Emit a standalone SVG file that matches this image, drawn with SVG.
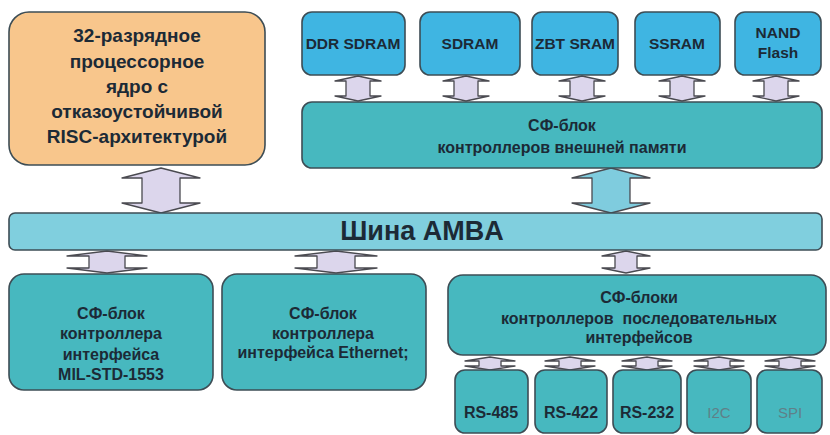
<svg xmlns="http://www.w3.org/2000/svg" width="830" height="435" viewBox="0 0 830 435">
<style>
text{font-family:"Liberation Sans",Arial,sans-serif;font-weight:bold;fill:#1c2a36;text-anchor:middle}
.box{stroke:#3d4d55;stroke-width:1.6}
.proc{fill:#F8C68C}
.mem{fill:#3FB5E2}
.teal{fill:#47B8BF}
.bus{fill:#80CFDE}
.arr{fill:#DCD6EC;stroke:#4a4a50;stroke-width:1.3;stroke-linejoin:round}
.arrc{fill:#7FCCDE;stroke:#4a4a50;stroke-width:1.3;stroke-linejoin:round}
.lite{font-weight:normal;fill:#5f8088}
</style>
<rect width="830" height="435" fill="#ffffff"/>
<g id="connectors">
<path class="arr" d="M161,168 L200,178 L180,178 L180,203 L200,203 L161,213 L122,203 L142,203 L142,178 L122,178 Z"/>
<path class="arrc" d="M611,168 L650,178 L630,178 L630,203 L650,203 L611,213 L572,203 L592,203 L592,178 L572,178 Z"/>
<path class="arr" d="M358,76 L381,81 L370,81 L370,96 L381,96 L358,101 L335,96 L346,96 L346,81 L335,81 Z"/>
<path class="arr" d="M466,76 L489,81 L478,81 L478,96 L489,96 L466,101 L443,96 L454,96 L454,81 L443,81 Z"/>
<path class="arr" d="M582,76 L605,81 L594,81 L594,96 L605,96 L582,101 L559,96 L570,96 L570,81 L559,81 Z"/>
<path class="arr" d="M682,76 L705,81 L694,81 L694,96 L705,96 L682,101 L659,96 L670,96 L670,81 L659,81 Z"/>
<path class="arr" d="M776,76 L799,81 L788,81 L788,96 L799,96 L776,101 L753,96 L764,96 L764,81 L753,81 Z"/>
<path class="arr" d="M107,251 L147,256 L125,256 L125,268 L147,268 L107,273 L67,268 L89,268 L89,256 L67,256 Z"/>
<path class="arr" d="M336,251 L377,256 L355,256 L355,268 L377,268 L336,273 L295,268 L317,268 L317,256 L295,256 Z"/>
<path class="arr" d="M626,251 L650,256 L637,256 L637,268 L650,268 L626,273 L602,268 L615,268 L615,256 L602,256 Z"/>
<path class="arr" d="M490,357 L515,361 L501,361 L501,366 L515,366 L490,370 L465,366 L479,366 L479,361 L465,361 Z"/>
<path class="arr" d="M570,357 L595,361 L581,361 L581,366 L595,366 L570,370 L545,366 L559,366 L559,361 L545,361 Z"/>
<path class="arr" d="M647,357 L672,361 L658,361 L658,366 L672,366 L647,370 L622,366 L636,366 L636,361 L622,361 Z"/>
<path class="arr" d="M719,357 L744,361 L730,361 L730,366 L744,366 L719,370 L694,366 L708,366 L708,361 L694,361 Z"/>
<path class="arr" d="M790,357 L815,361 L801,361 L801,366 L815,366 L790,370 L765,366 L779,366 L779,361 L765,361 Z"/>
</g>
<g id="processor">
<rect class="box proc" x="9" y="12" width="256" height="153" rx="20"/>
<text font-size="19" x="137" y="42">32-разрядное</text>
<text font-size="19" x="137" y="68">процессорное</text>
<text font-size="19" x="137" y="93">ядро с</text>
<text font-size="19" x="137" y="118">отказоустойчивой</text>
<text font-size="19" x="137" y="143">RISC-архитектурой</text>
</g>
<g id="ddr-sdram">
<rect class="box mem" x="302" y="12" width="103" height="63" rx="10"/>
<text font-size="15.5" x="353" y="49">DDR SDRAM</text>
</g>
<g id="sdram">
<rect class="box mem" x="420" y="12" width="100" height="63" rx="10"/>
<text font-size="15.5" x="470" y="49">SDRAM</text>
</g>
<g id="zbt-sram">
<rect class="box mem" x="532" y="12" width="86" height="63" rx="10"/>
<text font-size="15.5" x="575" y="49">ZBT SRAM</text>
</g>
<g id="ssram">
<rect class="box mem" x="635" y="12" width="85" height="63" rx="10"/>
<text font-size="15.5" x="677" y="49">SSRAM</text>
</g>
<g id="nand-flash">
<rect class="box mem" x="735" y="12" width="86" height="63" rx="10"/>
<text font-size="15.5" x="778" y="38">NAND</text>
<text font-size="15.5" x="778" y="58">Flash</text>
</g>
<g id="mem-controller">
<rect class="box teal" x="302" y="102" width="520" height="66" rx="10"/>
<text font-size="16" x="562" y="131">СФ-блок</text>
<text font-size="16" x="562" y="153">контроллеров внешней памяти</text>
</g>
<g id="amba-bus">
<rect class="box bus" x="9" y="213" width="813" height="37" rx="6"/>
<text font-size="27" x="422" y="240">Шина AMBA</text>
</g>
<g id="mil-std">
<rect class="box teal" x="9" y="274" width="204" height="116" rx="15"/>
<text font-size="16" x="111" y="319">СФ-блок</text>
<text font-size="16" x="111" y="339">контроллера</text>
<text font-size="16" x="111" y="360">интерфейса</text>
<text font-size="16" x="111" y="380">MIL-STD-1553</text>
</g>
<g id="ethernet">
<rect class="box teal" x="222" y="274" width="204" height="116" rx="15"/>
<text font-size="16" x="323" y="319">СФ-блок</text>
<text font-size="16" x="323" y="339">контроллера</text>
<text font-size="16" x="323" y="358">интерфейса Ethernet;</text>
</g>
<g id="serial">
<rect class="box teal" x="448" y="275" width="378" height="80" rx="15"/>
<text font-size="16" x="639" y="303">СФ-блоки</text>
<text font-size="16" x="639" y="324" xml:space="preserve">контроллеров  последовательных</text>
<text font-size="16" x="639" y="343">интерфейсов</text>
</g>
<g id="rs485">
<rect class="box teal" x="455" y="370" width="73" height="63" rx="10"/>
<text font-size="16" x="491" y="418">RS-485</text>
</g>
<g id="rs422">
<rect class="box teal" x="535" y="370" width="72" height="63" rx="10"/>
<text font-size="16" x="571" y="418">RS-422</text>
</g>
<g id="rs232">
<rect class="box teal" x="613" y="370" width="68" height="63" rx="10"/>
<text font-size="16" x="647" y="418">RS-232</text>
</g>
<g id="i2c">
<rect class="box teal" x="687" y="370" width="64" height="63" rx="10"/>
<text class="lite" font-size="15" x="719" y="418">I2C</text>
</g>
<g id="spi">
<rect class="box teal" x="757" y="370" width="65" height="63" rx="10"/>
<text class="lite" font-size="15" x="790" y="418">SPI</text>
</g>
</svg>
